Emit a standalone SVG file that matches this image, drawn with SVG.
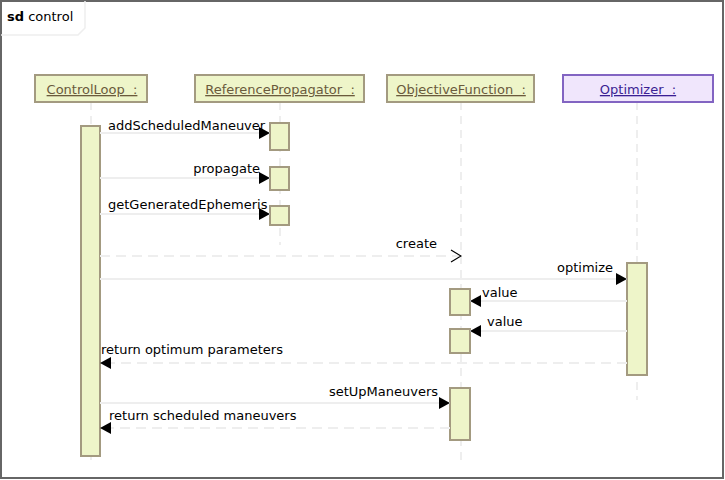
<svg xmlns="http://www.w3.org/2000/svg" width="725" height="480" viewBox="0 0 725 480">
<defs>
<style>
text{font-family:"DejaVu Sans",sans-serif;font-size:13px;fill:#000;white-space:pre}
.head{fill:#eef5c9;stroke:#a39a80;stroke-width:2}
.headp{fill:#f0e6fc;stroke:#8264c2;stroke-width:2}
.ht{fill:#6a5a3c;text-decoration:underline;text-anchor:middle}
.htp{fill:#3b1f94;text-decoration:underline;text-anchor:middle}
.life{stroke:#eeeeee;stroke-width:2;stroke-dasharray:8,6;fill:none}
.act{fill:#eef5c9;stroke:#a39a80;stroke-width:2}
.msg{stroke:#eeeeee;stroke-width:2;fill:none}
.ret{stroke:#eeeeee;stroke-width:2;stroke-dasharray:10,6;fill:none}
</style>
<marker id="fa" markerWidth="12" markerHeight="12" refX="11" refY="6" orient="auto" markerUnits="userSpaceOnUse">
<path d="M0,0 L11,6 L0,12 Z" fill="#000"/>
</marker>
<marker id="oa" markerWidth="12" markerHeight="14" refX="11" refY="7" orient="auto" markerUnits="userSpaceOnUse">
<path d="M1,1 L11,7 L1,13" fill="none" stroke="#000" stroke-width="1.2"/>
</marker>
</defs>
<rect x="0" y="0" width="725" height="480" fill="#fff"/>
<rect x="1" y="1" width="722" height="477" fill="none" stroke="#666" stroke-width="2"/>
<path d="M1,35 L78,35 L85,28 L85,1" fill="none" stroke="#eeeeee" stroke-width="1.5"/>
<text x="7" y="21"><tspan font-weight="bold">sd</tspan> control</text>

<g id="lifelines">
<line class="life" x1="91" y1="102" x2="91" y2="466"/>
<line class="life" x1="280" y1="102" x2="280" y2="245"/>
<line class="life" x1="461" y1="102" x2="461" y2="460"/>
<line class="life" x1="637" y1="102" x2="637" y2="400"/>
</g>

<g id="ControlLoop">
<rect class="head" x="35" y="75" width="112" height="27"/>
<text class="ht" x="92" y="94">ControlLoop  :</text>
<rect class="act" x="81" y="126" width="19" height="330"/>
</g>
<g id="ReferencePropagator">
<rect class="head" x="195" y="75" width="169" height="27"/>
<text class="ht" x="280" y="94">ReferencePropagator  :</text>
<rect class="act" x="270" y="123" width="19" height="27"/>
<rect class="act" x="270" y="167" width="19" height="23"/>
<rect class="act" x="270" y="206" width="19" height="19"/>
</g>
<g id="ObjectiveFunction">
<rect class="head" x="387" y="75" width="147" height="27"/>
<text class="ht" x="461" y="94">ObjectiveFunction  :</text>
<rect class="act" x="450" y="289" width="20" height="26"/>
<rect class="act" x="450" y="329" width="20" height="24"/>
<rect class="act" x="450" y="388" width="20" height="52"/>
</g>
<g id="Optimizer">
<rect class="headp" x="563" y="75" width="150" height="27"/>
<text class="htp" x="638" y="94">Optimizer  :</text>
<rect class="act" x="627" y="263" width="20" height="112"/>
</g>

<g id="connectors">
<line class="msg" x1="100" y1="133" x2="270" y2="133" marker-end="url(#fa)"/>
<line class="msg" x1="100" y1="178" x2="270" y2="178" marker-end="url(#fa)"/>
<line class="msg" x1="100" y1="214" x2="270" y2="214" marker-end="url(#fa)"/>
<line class="ret" x1="100" y1="256" x2="461" y2="256" marker-end="url(#oa)"/>
<line class="msg" x1="100" y1="279" x2="627" y2="279" marker-end="url(#fa)"/>
<line class="msg" x1="627" y1="301" x2="470" y2="301" marker-end="url(#fa)"/>
<line class="msg" x1="627" y1="331" x2="470" y2="331" marker-end="url(#fa)"/>
<line class="ret" x1="627" y1="363" x2="100" y2="363" marker-end="url(#fa)"/>
<line class="msg" x1="100" y1="403" x2="450" y2="403" marker-end="url(#fa)"/>
<line class="ret" x1="450" y1="428" x2="100" y2="428" marker-end="url(#fa)"/>
</g>

<g id="labels">
<text x="108" y="130">addScheduledManeuver</text>
<text x="260" y="173" text-anchor="end">propagate</text>
<text x="108" y="209">getGeneratedEphemeris</text>
<text x="437" y="248" text-anchor="end">create</text>
<text x="613" y="272" text-anchor="end">optimize</text>
<text x="482" y="297">value</text>
<text x="487" y="326">value</text>
<text x="101" y="354">return optimum parameters</text>
<text x="438" y="396" text-anchor="end">setUpManeuvers</text>
<text x="109" y="420">return scheduled maneuvers</text>
</g>
</svg>
